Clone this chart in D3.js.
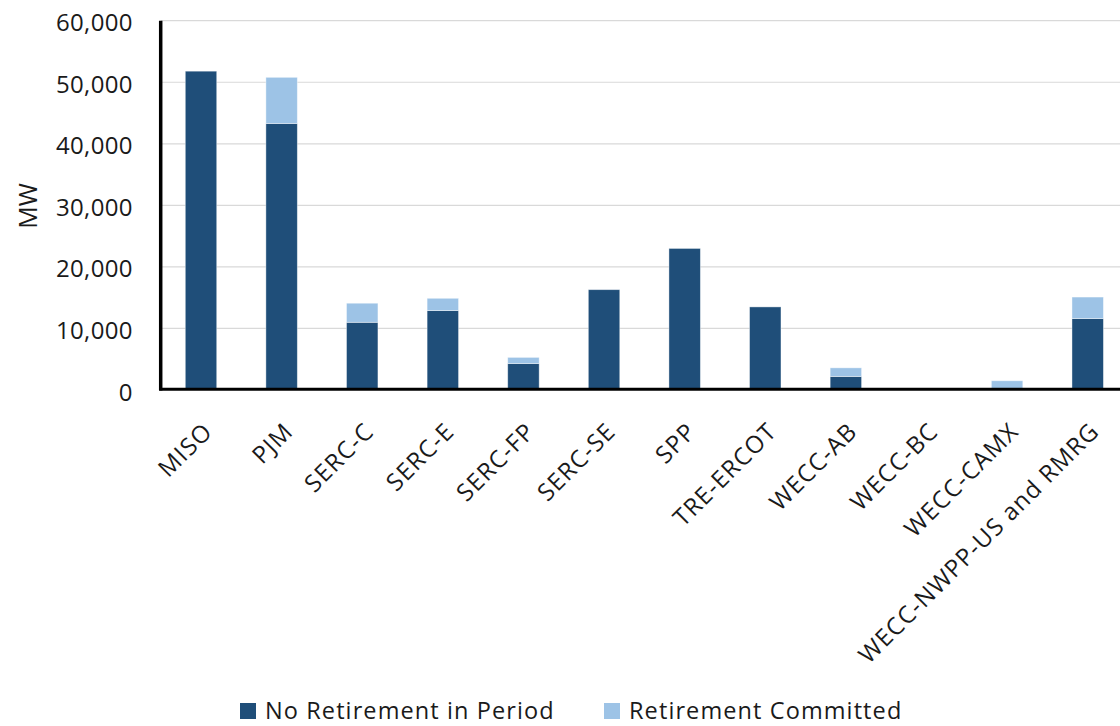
<!DOCTYPE html>
<html><head><meta charset="utf-8">
<script src="https://cdn.jsdelivr.net/npm/d3@7"></script>
<style>
html,body{margin:0;padding:0;background:#fff;}
svg{display:block;}
text{font-family:"Open Sans",sans-serif;fill:#1a1a1a;}
</style></head>
<body>
<svg id="chart" width="1120" height="726"></svg>
<script>
const categories = ["MISO","PJM","SERC-C","SERC-E","SERC-FP","SERC-SE","SPP","TRE-ERCOT","WECC-AB","WECC-BC","WECC-CAMX","WECC-NWPP-US and RMRG"];
const noRetirement = [51800,43300,11000,12900,4300,16300,23000,13500,2200,0,0,11600];
const retirementCommitted = [0,7500,3100,2000,1000,0,0,0,1400,0,1500,3500];
const seriesNames = ["No Retirement in Period","Retirement Committed"];
const seriesColors = ["#1F4E79","#9DC3E6"];
const yTicks = [0,10000,20000,30000,40000,50000,60000];

const svg = d3.select("#chart");
const pLeft = 160.7, pRight = 1128, pTop = 20.7, pBottom = 390;

const x = d3.scaleBand().domain(categories).range([pLeft,pRight]).paddingInner(0.61).paddingOuter(0.305);
const y = d3.scaleLinear().domain([0,60000]).range([pBottom,pTop]);

// gridlines
svg.append("g").selectAll("line").data(yTicks.filter(d=>d>0)).join("line")
  .attr("x1",pLeft).attr("x2",1120).attr("y1",d=>y(d)).attr("y2",d=>y(d))
  .attr("stroke","#d9d9d9").attr("stroke-width",1.2);

// stacked bars
const rows = categories.map((c,i)=>({cat:c, a:noRetirement[i], b:retirementCommitted[i]}));
const stack = d3.stack().keys(["a","b"])(rows);
svg.append("g").selectAll("g").data(stack).join("g")
  .attr("fill",(d,i)=>seriesColors[i])
  .selectAll("rect").data(d=>d.filter(p=>p[1]-p[0]>0)).join("rect")
  .attr("x",d=>x(d.data.cat)).attr("width",x.bandwidth())
  .attr("y",d=>y(d[1])).attr("height",d=>y(d[0])-y(d[1]))
  .attr("stroke","#ffffff").attr("stroke-opacity",0.5).attr("stroke-width",0.8);

// y axis
const yAxis = d3.axisLeft(y).tickValues(yTicks).tickFormat(d3.format(",")).tickSize(0).tickPadding(28);
const gy = svg.append("g").attr("transform",`translate(${pLeft},0)`).call(yAxis);
gy.select(".domain").remove();
gy.selectAll("text").style("font-family","'Open Sans',sans-serif").style("font-size","24px")
  .style("letter-spacing","0.3px").attr("dy","0.42em").attr("fill","#1a1a1a");

svg.append("line").attr("x1",pLeft).attr("x2",pLeft).attr("y1",pTop).attr("y2",pBottom+0.5)
  .attr("stroke","#000").attr("stroke-width",3.5);
svg.append("line").attr("x1",pLeft-1.5).attr("x2",1120).attr("y1",pBottom-0.8).attr("y2",pBottom-0.8)
  .attr("stroke","#000").attr("stroke-width",3);

// x labels
const xAxis = d3.axisBottom(x).tickSize(0).tickPadding(0);
const gx = svg.append("g").attr("transform",`translate(0,${pBottom})`).call(xAxis);
gx.select(".domain").remove();
gx.selectAll("text")
  .style("font-family","'Open Sans',sans-serif").style("font-size","24px").style("letter-spacing","1.1px")
  .attr("fill","#1a1a1a")
  .attr("text-anchor","end").attr("dy","0.35em").attr("y",0)
  .attr("transform","translate(7,37) rotate(-45)");

// y title
svg.append("text").attr("transform","translate(28,206) rotate(-90)")
  .attr("text-anchor","middle").attr("dy","0.35em").style("font-size","25px").text("MW");

// legend
const legX = [240,604];
const leg = svg.append("g").selectAll("g").data(seriesNames).join("g")
  .attr("transform",(d,i)=>`translate(${legX[i]},703)`);
leg.append("rect").attr("width",16).attr("height",16).attr("fill",(d,i)=>seriesColors[i]);
leg.append("text").attr("x",25).attr("y",16).style("font-size","23.5px").style("letter-spacing","1.1px").text(d=>d);
</script>
</body></html>
